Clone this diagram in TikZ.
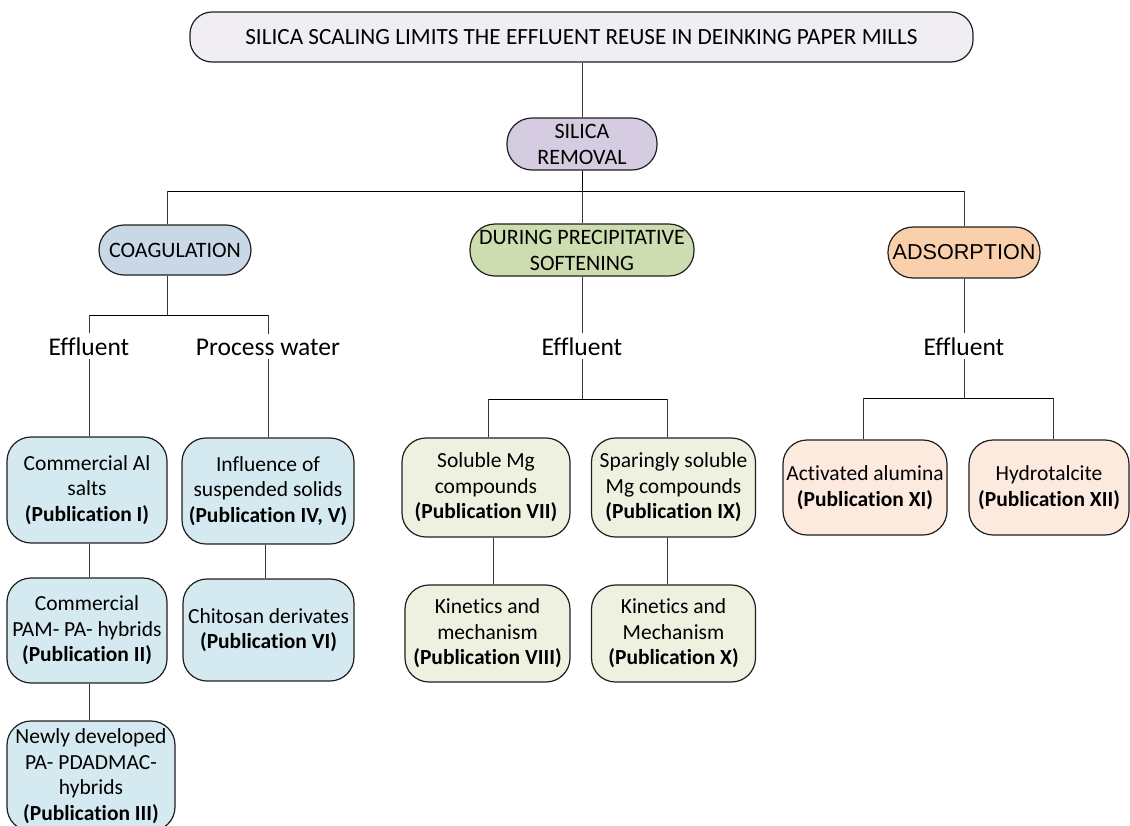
\documentclass[tikz,border=0pt]{standalone}
\usepackage{fontspec}
\setmainfont{Carlito}[Ligatures=NoCommon]
\newfontfamily\arialfont{Liberation Sans}
\usetikzlibrary{calc}

\definecolor{topfill}{HTML}{F0EEF3}
\definecolor{silicafill}{HTML}{D5CCE1}
\definecolor{coagfill}{HTML}{C9D8E7}
\definecolor{softfill}{HTML}{CEDDB0}
\definecolor{adsfill}{HTML}{FAD0AC}
\definecolor{bluebox}{HTML}{D4EAF0}
\definecolor{greenbox}{HTML}{EEF1E0}
\definecolor{peachbox}{HTML}{FDEADE}

\begin{document}
\begin{tikzpicture}[x=1pt,y=-1pt,
  box/.style={draw=black!88, line width=1.2pt, align=center, inner sep=0pt,
    rounded corners=24pt, font=\fontsize{21.5}{25.5}\selectfont},
  pill/.style={box, rounded corners=25pt},
  dims/.style 2 args={minimum width=#1, minimum height=#2},
  branch/.style={font=\fontsize{25.5}{30}\selectfont, inner xsep=2pt, inner ysep=4pt, anchor=base},
  conn/.style={draw=black!78, line width=0.9pt},
  bus/.style={draw=black, line width=1pt}]

\useasboundingbox (0,0) rectangle (1130,825);

% ---- top levels ----
\node[box, rounded corners=22pt, fill=topfill, dims={783pt}{50pt},
      font=\fontsize{23.2}{28}\selectfont] (top) at (581.5,37)
  {SILICA SCALING LIMITS THE EFFLUENT REUSE IN DEINKING PAPER MILLS};
\node[pill, fill=silicafill, dims={150pt}{52pt}, font=\fontsize{22}{26}\selectfont]
  (silica) at (582,144) {SILICA\\REMOVAL};

\node[pill, fill=coagfill, dims={152pt}{50pt}, font=\fontsize{22}{26}\selectfont]
  (coag) at (175,250) {COAGULATION};
\node[pill, fill=softfill, dims={224pt}{52pt}, font=\fontsize{22}{26}\selectfont]
  (soft) at (582,250) {DURING PRECIPITATIVE\\SOFTENING};
\node[pill, fill=adsfill, dims={152pt}{51pt}, font=\arialfont\fontsize{21.6}{25}\selectfont]
  (ads) at (964,252.5) {ADSORPTION};

% ---- water streams ----
\node[branch] (eff1) at (89,355) {Effluent};
\node[branch] (pw)   at (268,355) {Process water};
\node[branch] (eff2) at (582,355) {Effluent};
\node[branch] (eff3) at (964,355) {Effluent};

% ---- coagulation studies ----
\node[box, fill=bluebox, dims={160pt}{106pt}] (alsalts) at (87,490)
  {Commercial Al\\salts\\\textbf{(Publication I)}};
\node[box, fill=bluebox, dims={160pt}{105pt}] (pam) at (87,630.5)
  {Commercial\\PAM- PA- hybrids\\\textbf{(Publication II)}};
\node[box, fill=bluebox, dims={168pt}{110pt}] (newly) at (91,776)
  {Newly developed\\PA- PDADMAC-\\hybrids\\\textbf{(Publication III)}};
\node[box, fill=bluebox, dims={172pt}{106pt}] (influence) at (268,491)
  {Influence of\\suspended solids\\\textbf{(Publication IV, V)}};
\node[box, fill=bluebox, dims={171pt}{102pt}] (chitosan) at (268.5,630)
  {Chitosan derivates\\\textbf{(Publication VI)}};

% ---- softening studies ----
\node[box, fill=greenbox, dims={168pt}{99pt}] (soluble) at (486,487.5)
  {Soluble Mg\\compounds\\\textbf{(Publication VII)}};
\node[box, fill=greenbox, dims={165pt}{97pt}] (kin1) at (487.5,633.5)
  {Kinetics and\\mechanism\\\textbf{(Publication VIII)}};
\node[box, fill=greenbox, dims={164pt}{99pt}] (sparing) at (673.5,487.5)
  {Sparingly soluble\\Mg compounds\\\textbf{(Publication IX)}};
\node[box, fill=greenbox, dims={164pt}{97pt}] (kin2) at (673.5,633.5)
  {Kinetics and\\Mechanism\\\textbf{(Publication X)}};

% ---- adsorption studies ----
\node[box, fill=peachbox, dims={164pt}{95pt}] (alumina) at (865,487.5)
  {Activated alumina\\\textbf{(Publication XI)}};
\node[box, fill=peachbox, dims={160pt}{95pt}] (hydro) at (1049,487.5)
  {Hydrotalcite\\\textbf{(Publication XII)}};

% ---- junction points ----
\coordinate (busA)  at (582,191);
\coordinate (busAL) at (167,191);
\coordinate (busAR) at (964,191);
\coordinate (busB)  at (167,315);
\coordinate (busBL) at (89,315);
\coordinate (busBR) at (268,315);
\coordinate (busC)  at (582,399);
\coordinate (busCL) at (488,399);
\coordinate (busCR) at (667,399);
\coordinate (busD)  at (964,398);
\coordinate (busDL) at (863,398);
\coordinate (busDR) at (1053,398);

% ---- connectors ----
\draw[conn] (top.south -| silica.north) -- (silica.north);
\draw[bus] (silica.south) -- (busA);
\draw[bus] (busAL) -- (busAR);
\draw[conn] (busAL) -- (busAL |- coag.north);
\draw[conn] (busA) -- (soft.north);
\draw[conn] (busAR) -- (ads.north);

% coagulation branch
\draw[conn] (busAL |- coag.south) -- (busB);
\draw[bus] (busBL) -- (busBR);
\draw[conn] (busBL) -- (eff1.north);
\draw[conn] (busBR) -- (pw.north);
\draw[conn] (eff1.south) -- (eff1.south |- alsalts.north);
\draw[conn] (pw.south) -- (pw.south |- influence.north);
\draw[conn] (alsalts.south -| eff1.south) -- (pam.north -| eff1.south);
\draw[conn] (pam.south -| eff1.south) -- (newly.north -| eff1.south);
\draw[conn] ([xshift=-3pt]influence.south) -- ([xshift=-3pt]influence.south |- chitosan.north);

% softening branch
\draw[conn] (soft.south) -- (eff2.north);
\draw[conn] (eff2.south) -- (busC);
\draw[bus] (busCL) -- (busCR);
\draw[conn] (busCL) -- (busCL |- soluble.north);
\draw[conn] (busCR) -- (busCR |- sparing.north);
\draw[conn] ([xshift=7pt]soluble.south) -- ([xshift=7pt]soluble.south |- kin1.north);
\draw[conn] (sparing.south -| busCR) -- (kin2.north -| busCR);

% adsorption branch
\draw[conn] (ads.south) -- (eff3.north);
\draw[conn] (eff3.south) -- (busD);
\draw[bus] (busDL) -- (busDR);
\draw[conn] (busDL) -- (busDL |- alumina.north);
\draw[conn] (busDR) -- (busDR |- hydro.north);
\end{tikzpicture}
\end{document}
